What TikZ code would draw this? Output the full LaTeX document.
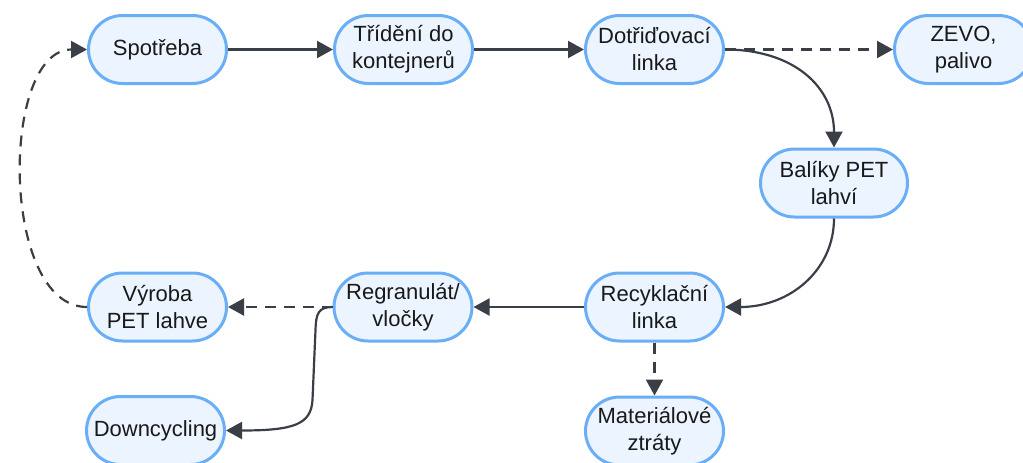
\documentclass[tikz,border=0pt]{standalone}
\usepackage{fontspec}
\setmainfont{Liberation Sans}
\usetikzlibrary{arrows.meta}
\definecolor{boxline}{HTML}{6AAEF6}
\definecolor{boxfill}{HTML}{EBF4FF}
\definecolor{arr}{HTML}{3A3F47}
\tikzset{
  box/.style={draw=boxline, fill=boxfill, line width=3pt, rounded corners=34pt,
    minimum width=138pt, minimum height=68pt, inner sep=2pt, align=center,
    font=\fontsize{22}{27}\selectfont, text=black!90},
  conn/.style={draw=arr, line width=2.2pt, -{Triangle[length=16pt,width=17pt]}},
  dconn/.style={conn, dash pattern=on 11pt off 8pt},
}
\begin{document}
\begin{tikzpicture}[x=1pt,y=-1pt]
\useasboundingbox (0,0) rectangle (1023,463);
\node[box] (spo) at (157.5,49.5) {Spotřeba};
\node[box] (tri) at (403.5,49.5) {Třídění do\\kontejnerů};
\node[box] (dot) at (654.5,49.5) {Dotřiďovací\\linka};
\node[box] (zev) at (963.5,49.5) {ZEVO,\\palivo};
\node[box, minimum width=147pt] (bal) at (834,183) {Balíky PET\\lahví};
\node[box] (rec) at (654.5,307) {Recyklační\\linka};
\node[box] (reg) at (403,307) {Regranulát/\\vločky};
\node[box] (vyr) at (157.5,307) {Výroba\\PET lahve};
\node[box] (dow) at (155.5,430.5) {Downcycling};
\node[box] (mat) at (654.5,431) {Materiálové\\ztráty};

\draw[conn] (spo.east) -- (tri.west);
\draw[conn] (tri.east) -- (dot.west);
\draw[dconn] (dot.east) -- (zev.west);
\draw[conn] (dot.east) .. controls (795,49.5) and (834,88) .. (bal.north);
\draw[conn] (bal.south) .. controls (834,270) and (790,307) .. (rec.east);
\draw[conn] (rec.west) -- (reg.east);
\draw[dconn] (rec.south) -- (mat.north);
\draw[dconn] (reg.west) -- (vyr.east);
\draw[conn] (reg.west) .. controls (318,307) and (316,314) .. (315.5,330)
  -- (312.5,400) .. controls (311,424) and (295,430.5) .. (dow.east);
\draw[dconn] (vyr.west) .. controls (0,307) and (0,49.5) .. (spo.west);
\end{tikzpicture}
\end{document}
